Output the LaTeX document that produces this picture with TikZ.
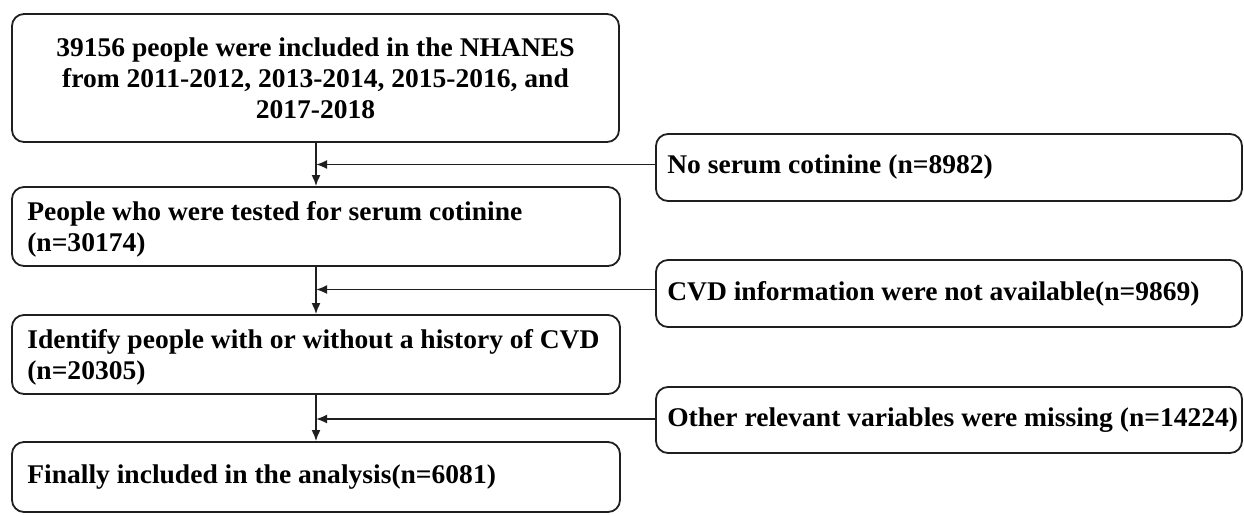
\documentclass[tikz,border=0pt]{standalone}
\usepackage{fontspec}
\setmainfont[FakeStretch=1.02]{Liberation Serif}
\usetikzlibrary{arrows.meta}
\begin{document}
\begin{tikzpicture}[x=1pt,y=-1pt,
  box/.style={draw=black!88, line width=1.8pt, rounded corners=12pt, inner sep=0pt},
  txt/.style={inner sep=0pt, font=\fontsize{27}{31}\selectfont\bfseries, align=left, anchor=west},
  flow/.style={draw=black!88, line width=1.8pt, -{Latex[length=11pt,width=9pt]}}]
\useasboundingbox (0,0) rectangle (1244,515);
% main column boxes
\node[box, minimum width=607pt, minimum height=128pt] (b1) at (315.5,78) {};
\node[box, minimum width=608pt, minimum height=79pt] (b2) at (316,226.5) {};
\node[box, minimum width=608pt, minimum height=79pt] (b3) at (316,354.5) {};
\node[box, minimum width=608pt, minimum height=70pt] (b4) at (316,477) {};
% exclusion boxes
\node[box, minimum width=586pt, minimum height=67pt] (r1) at (949,167.5) {};
\node[box, minimum width=586pt, minimum height=67pt] (r2) at (949,293.5) {};
\node[box, minimum width=586pt, minimum height=66pt] (r3) at (949,420) {};
% texts
\node[txt, anchor=center, align=center] (t1) at (b1.center) {39156 people were included in the NHANES\\from 2011-2012, 2013-2014, 2015-2016, and\\2017-2018};
\node[txt] (t2) at ([xshift=16pt,yshift=-3pt]b2.west) {People who were tested for serum cotinine\\(n=30174)};
\node[txt] (t3) at ([xshift=16pt,yshift=-3pt]b3.west) {Identify people with or without a history of CVD\\(n=20305)};
\node[txt] (t4) at ([xshift=16pt]b4.west) {Finally included in the analysis(n=6081)};
\node[txt] (u1) at ([xshift=12pt]r1.west) {No serum cotinine (n=8982)};
\node[txt] (u2) at ([xshift=12pt]r2.west) {CVD information were not available(n=9869)};
\node[txt] (u3) at ([xshift=12pt]r3.west) {Other relevant variables were missing (n=14224)};
% connectors
\draw[flow] (b1.south -| b2.north) -- (b2.north);
\draw[flow] (b2.south) -- (b3.north);
\draw[flow] (b3.south) -- (b4.north);
\draw[flow] ([yshift=3pt]r1.west) -- ([yshift=3pt]r1.west -| b2.north);
\draw[flow] ([yshift=4pt]r2.west) -- ([yshift=4pt]r2.west -| b2.north);
\draw[flow] ([yshift=1pt]r3.west) -- ([yshift=1pt]r3.west -| b2.north);
\end{tikzpicture}
\end{document}
